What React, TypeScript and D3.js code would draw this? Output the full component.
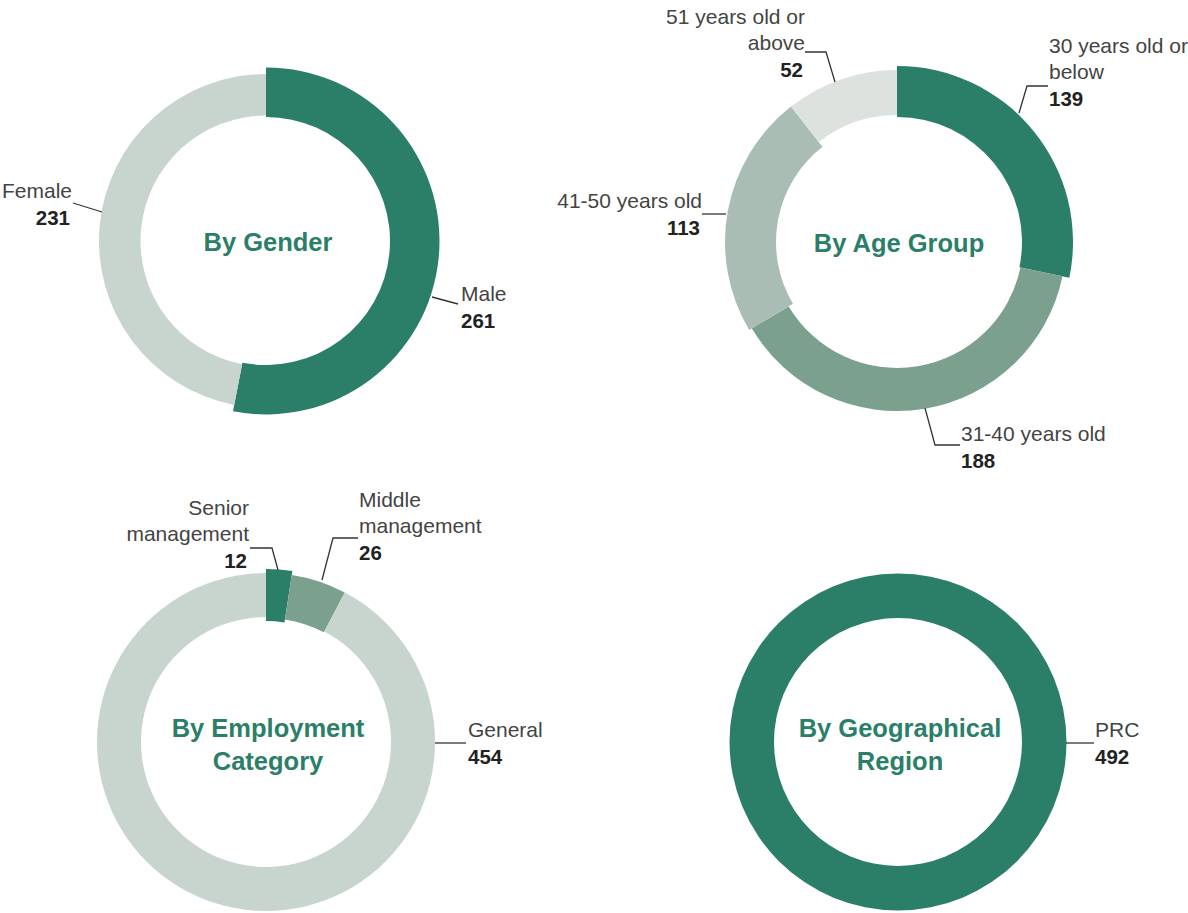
import React from 'react';
import * as d3 from 'd3';

// ---- data ----
const genderCats = ['Male', 'Female'];
const genderVals = [261, 231];

const ageCats = ['30 years old or below', '31-40 years old', '41-50 years old', '51 years old or above'];
const ageVals = [139, 188, 113, 52];

const empCats = ['Senior management', 'Middle management', 'General'];
const empVals = [12, 26, 454];

const regionCats = ['PRC'];
const regionVals = [492];

// ---- styles / layout ----
const DARK = '#2b7f68';
const MID = '#7ba08d';
const SOFT = '#a9bdb4';
const LIGHT = '#c8d4ce';
const PALE = '#dce3df';

interface SliceStyle { fill: string; rIn: number; rOut: number }
interface LabelSpec {
  lines: string[];      // label text lines (the value is appended in bold)
  x: number; y: number; // first baseline, relative to center
  anchor: 'start' | 'end';
  leader: [number, number][];
}
interface ChartSpec {
  title: string[];
  cx: number; cy: number;
  cats: string[];
  vals: number[];
  slices: SliceStyle[];
  labels: LabelSpec[];
}

const charts: ChartSpec[] = [
  {
    title: ['By Gender'], cx: 266, cy: 241,
    cats: genderCats, vals: genderVals,
    slices: [
      { fill: DARK, rIn: 124, rOut: 173.5 },
      { fill: LIGHT, rIn: 125.5, rOut: 167 },
    ],
    labels: [
      { lines: ['Male'], x: 195, y: 60, anchor: 'start', leader: [[166, 56], [192, 63]] },
      { lines: ['Female'], x: -194, y: -43, anchor: 'end', leader: [[-193, -38], [-164, -29]] },
    ],
  },
  {
    title: ['By Age Group'], cx: 897, cy: 242,
    cats: ageCats, vals: ageVals,
    slices: [
      { fill: DARK, rIn: 125, rOut: 176 },
      { fill: MID, rIn: 126, rOut: 169 },
      { fill: SOFT, rIn: 121, rOut: 172 },
      { fill: PALE, rIn: 127, rOut: 172 },
    ],
    labels: [
      { lines: ['30 years old or', 'below'], x: 152, y: -189, anchor: 'start', leader: [[122, -129], [130, -156], [151, -156]] },
      { lines: ['31-40 years old'], x: 64, y: 199, anchor: 'start', leader: [[28, 166], [38, 203], [63, 203]] },
      { lines: ['41-50 years old'], x: -195, y: -34, anchor: 'end', leader: [[-171, -28], [-195, -28]] },
      { lines: ['51 years old or', 'above'], x: -92, y: -218, anchor: 'end', leader: [[-62, -160], [-71, -190], [-92, -190]] },
    ],
  },
  {
    title: ['By Employment', 'Category'], cx: 266, cy: 742,
    cats: empCats, vals: empVals,
    slices: [
      { fill: DARK, rIn: 121, rOut: 173 },
      { fill: MID, rIn: 124, rOut: 169 },
      { fill: LIGHT, rIn: 125, rOut: 169 },
    ],
    labels: [
      { lines: ['Senior', 'management'], x: -17, y: -227, anchor: 'end', leader: [[12, -172], [6, -194], [-16, -194]] },
      { lines: ['Middle', 'management'], x: 93, y: -235, anchor: 'start', leader: [[56, -162], [67, -204], [92, -204]] },
      { lines: ['General'], x: 202, y: -5, anchor: 'start', leader: [[169, 1], [200, 1]] },
    ],
  },
  {
    title: ['By Geographical', 'Region'], cx: 898, cy: 742,
    cats: regionCats, vals: regionVals,
    slices: [{ fill: DARK, rIn: 124, rOut: 168.5 }],
    labels: [
      { lines: ['PRC'], x: 197, y: -5, anchor: 'start', leader: [[168, 1], [196, 1]] },
    ],
  },
];

const FONT = '"Liberation Sans", Arial, Helvetica, sans-serif';
const LINE_H = 26;

const Donut: React.FC<{ spec: ChartSpec }> = ({ spec }) => {
  const pie = d3.pie<number>().sort(null).value(d => d)(spec.vals);
  const line = d3.line();
  return (
    <g transform={`translate(${spec.cx},${spec.cy})`}>
      {pie.map((p, i) => {
        const st = spec.slices[i];
        const path = d3.arc<d3.PieArcDatum<number>>()
          .innerRadius(st.rIn)
          .outerRadius(st.rOut)(p) || '';
        return <path key={i} d={path} fill={st.fill} />;
      })}
      {spec.title.map((t, i) => (
        <text key={i} x={2} y={10 - (spec.title.length - 1) * 15 + i * 33}
          textAnchor="middle" fill={DARK} fontSize={25.5} fontWeight="bold" fontFamily={FONT}>
          {t}
        </text>
      ))}
      {spec.labels.map((lb, i) => (
        <g key={i}>
          <path d={line(lb.leader) || ''} fill="none" stroke="#333" strokeWidth={1.3} />
          {lb.lines.map((t, j) => (
            <text key={j} x={lb.x} y={lb.y + j * LINE_H} textAnchor={lb.anchor}
              fill="#444" fontSize={21} fontFamily={FONT}>{t}</text>
          ))}
          <text x={lb.anchor === 'end' ? lb.x - 2 : lb.x} y={lb.y + lb.lines.length * LINE_H + 1} textAnchor={lb.anchor}
            fill="#222" fontSize={20.5} fontWeight="bold" fontFamily={FONT}>
            {spec.vals[i]}
          </text>
        </g>
      ))}
    </g>
  );
};

export default function App() {
  return (
    <svg width={1188} height={913} style={{ position: 'absolute', left: 0, top: 0, background: '#fff' }}>
      {charts.map((c, i) => <Donut key={i} spec={c} />)}
    </svg>
  );
}
